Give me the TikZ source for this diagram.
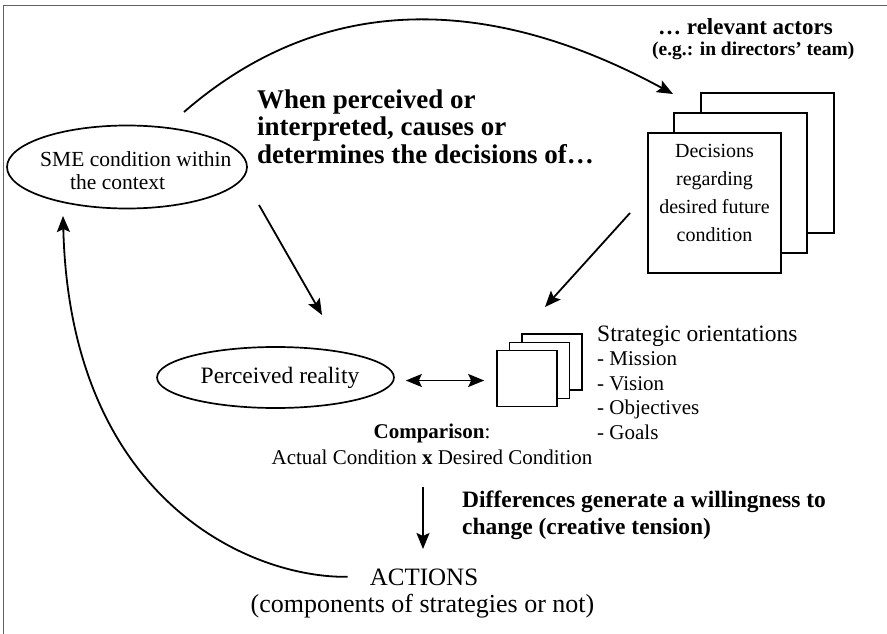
\documentclass[tikz,border=0pt]{standalone}
\usepackage{fontspec}
\setmainfont{Liberation Serif}
\usetikzlibrary{arrows.meta,shapes.geometric,positioning}

\begin{document}
\begin{tikzpicture}[x=1pt, y=-1pt,
    oval/.style={shape=ellipse, draw, line width=1.7pt, inner sep=0pt},
    sheet/.style={shape=rectangle, draw, fill=white, line width=1.6pt, inner sep=0pt},
    bigsheet/.style={sheet, minimum width=133pt, minimum height=140pt},
    smallsheet/.style={sheet, minimum width=60pt, minimum height=56pt},
    tip/.style={-{Stealth[length=16pt,width=13pt,inset=3pt]}},
    arr/.style={line width=1.8pt, tip},
    plain/.style={inner sep=0pt, align=#1},
    plain/.default=left]
  \useasboundingbox (0,0) rectangle (887,634);
  \draw[line width=1.4pt, black!62] (3.5,634) -- (3.5,5.5) -- (887,5.5);

  % context
  \node[oval, minimum width=240pt, minimum height=83pt] (sme) at (127,167) {};
  \node[plain, anchor=base west, font=\fontsize{21.5}{23}\selectfont] (smetext) at (40,189)
    {SME condition within\\\hspace*{30pt}the context};

  % decisions of the actors
  \node[plain, anchor=base west, font=\bfseries\fontsize{27}{27.5}\selectfont] (when) at (257,163)
    {When perceived or\\interpreted, causes or\\determines the decisions of\ldots};
  \node[plain, anchor=base west, font=\bfseries\fontsize{23}{23}\selectfont] (actors) at (658,35)
    {\ldots\ relevant actors};
  \node[plain, anchor=base west, font=\bfseries\fontsize{19.5}{20}\selectfont] (eg) at (652,56)
    {(e.g.: in directors’ team)};
  \node[bigsheet] (dec3) at (767.5,163) {};
  \node[bigsheet] (dec2) at ([shift={(-27,20)}]dec3.center) {};
  \node[bigsheet] (dec1) at ([shift={(-26,20)}]dec2.center) {};
  \node[plain=center, anchor=base, font=\fontsize{20}{28}\selectfont] (dectext) at (714.5,241)
    {Decisions\\regarding\\desired future\\condition};

  % comparison
  \node[oval, minimum width=221pt, minimum height=61pt, font=\fontsize{23.5}{24}\selectfont] (perc) at (275.5,377.5)
    {\hspace*{9pt}Perceived reality};
  \node[smallsheet] (so3) at (552,362) {};
  \node[smallsheet] (so2) at ([shift={(-12.5,8.5)}]so3.center) {};
  \node[smallsheet] (so1) at ([shift={(-12.5,8)}]so2.center) {};
  \node[plain, anchor=base west, font=\fontsize{21}{24.5}\selectfont] (strat) at (597,439)
    {{\fontsize{23.5}{24}\selectfont Strategic orientations}\\- Mission\\- Vision\\- Objectives\\- Goals};
  \node[plain=center, anchor=base, font=\fontsize{21}{26}\selectfont] (cmp) at (432,464)
    {\textbf{Comparison}:\\Actual Condition \textbf{x} Desired Condition};

  % actions
  \node[plain, anchor=base west, font=\bfseries\fontsize{23.5}{27}\selectfont] (diff) at (462,534)
    {Differences generate a willingness to\\change (creative tension)};
  \node[plain=center, anchor=base, font=\fontsize{25}{25}\selectfont] (act) at (424,585) {ACTIONS};
  \node[plain=center, anchor=base, font=\fontsize{26}{26}\selectfont] (actsub) at (422.5,612)
    {(components of strategies or not)};

  % connectors
  \coordinate (smetop) at (184,112);
  \coordinate (dectop) at (673,94);
  \coordinate (smelow) at (259,205);
  \coordinate (percup) at (322,315);
  \coordinate (decbot) at (630,213);
  \coordinate (soup) at (545,307);
  \coordinate (cmpbot) at (423,487);
  \coordinate (acttop) at (423,549);
  \coordinate (smebot) at (63,216);
  \draw[arr] (smetop) .. controls (330,-15) and (500,0) .. (dectop);
  \draw[arr] (smelow) -- (percup);
  \draw[arr] (decbot) -- (soup);
  \draw[arr, {Stealth[length=16pt,width=13pt,inset=3pt]}-{Stealth[length=16pt,width=13pt,inset=3pt]}]
    ([shift={(11,3)}]perc.east) -- ([shift={(-12,2)}]so1.west);
  \draw[arr] (cmpbot) -- (acttop);
  \draw[arr] ([xshift=-22pt]act.west) .. controls (250,578) and (70,500) .. (smebot);
\end{tikzpicture}
\end{document}
